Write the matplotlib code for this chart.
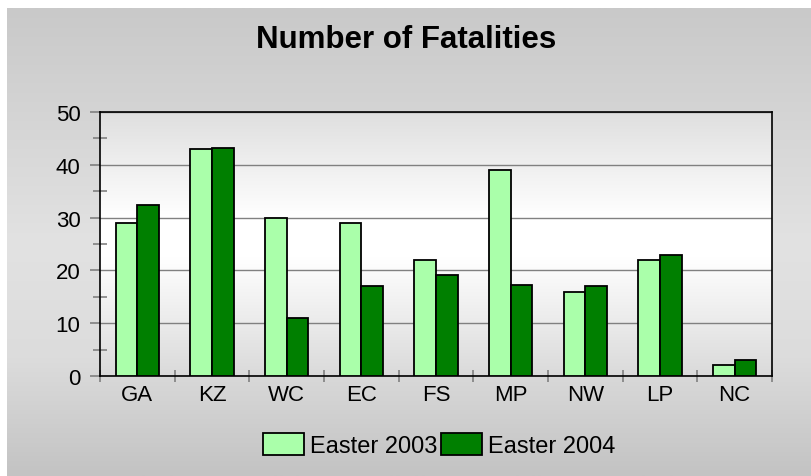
import numpy as np
import matplotlib
matplotlib.use("Agg")
import matplotlib.pyplot as plt
from matplotlib.colors import LinearSegmentedColormap
from matplotlib.ticker import MultipleLocator

plt.rcParams['font.family'] = ['Liberation Sans', 'DejaVu Sans']

# data
provinces = ['GA', 'KZ', 'WC', 'EC', 'FS', 'MP', 'NW', 'LP', 'NC']
easter_2003 = [29, 43, 30, 29, 22, 39, 16, 22, 2]
easter_2004 = [32.4, 43.2, 11, 17, 19.2, 17.2, 17, 23, 3]
series_names = ['Easter 2003', 'Easter 2004']

fig = plt.figure(figsize=(8.12, 4.77), dpi=100)
fig.patch.set_facecolor('white')

# gray gradient panel behind everything (white strip at top and left)
bg = fig.add_axes([7 / 812, 0, 805 / 812, 468 / 477], zorder=-10)
bg_cmap = LinearSegmentedColormap.from_list(
    'bg', [(0.0, '#c9c9c9'), (0.5, '#e2e2e2'), (0.75, '#dcdcdc'), (1.0, '#c3c3c3')])
bg.imshow(np.linspace(0, 1, 256).reshape(-1, 1), aspect='auto', cmap=bg_cmap,
          extent=[0, 1, 1, 0])
bg.set_axis_off()

ax = fig.add_axes([100 / 812, 1 - 377 / 477, 672 / 812, 264 / 477])
ax.set_facecolor('none')
ax_cmap = LinearSegmentedColormap.from_list(
    'axbg', [(0.0, '#dadada'), (0.45, '#ffffff'), (0.6, '#ffffff'), (1.0, '#dfdfdf')])
ax.imshow(np.linspace(0, 1, 256).reshape(-1, 1), aspect='auto', cmap=ax_cmap,
          extent=[-0.5, len(provinces) - 0.5, 0, 50], origin='lower', zorder=0)

x = np.arange(len(provinces))
w = 0.29
ax.bar(x - w / 2, easter_2003, w, color='#aaffaa', edgecolor='black', linewidth=1.3,
       label=series_names[0], zorder=3)
ax.bar(x + w / 2, easter_2004, w, color='#007f00', edgecolor='black', linewidth=1.3,
       label=series_names[1], zorder=3)

ax.set_xlim(-0.5, len(provinces) - 0.5)
ax.set_ylim(0, 50)
ax.yaxis.set_major_locator(MultipleLocator(10))
ax.yaxis.set_minor_locator(MultipleLocator(5))
ax.yaxis.grid(True, which='major', color='#808080', linewidth=1, zorder=1)

ax.set_xticks(x)
ax.set_xticklabels(provinces, fontsize=16)
ax.tick_params(axis='x', which='major', length=0, pad=6)
ax.set_xticks(np.arange(len(provinces) + 1) - 0.5, minor=True)
ax.tick_params(axis='x', which='minor', direction='inout', length=8, color='#808080',
               width=1.2)
ax.tick_params(axis='y', which='major', direction='out', length=7, color='#808080',
               width=1.2, labelsize=16, pad=7)
ax.tick_params(axis='y', which='minor', direction='inout', length=10, color='#808080',
               width=1.2)

for s in ax.spines.values():
    s.set_color('black')
    s.set_linewidth(1.2)

fig.text(0.5, 1 - 48.5 / 477, 'Number of Fatalities', ha='center', va='baseline',
         fontsize=22.5, fontweight='bold')

# legend sits a bit right of centre in the reference
fig.legend(loc='center', bbox_to_anchor=(439 / 812, 1 - 446 / 477), ncol=2, frameon=False,
           fontsize=17, handlelength=1.74, handleheight=1.06, handletextpad=0.25,
           columnspacing=0.17, borderaxespad=0)

fig.savefig('out.png', dpi=100)
